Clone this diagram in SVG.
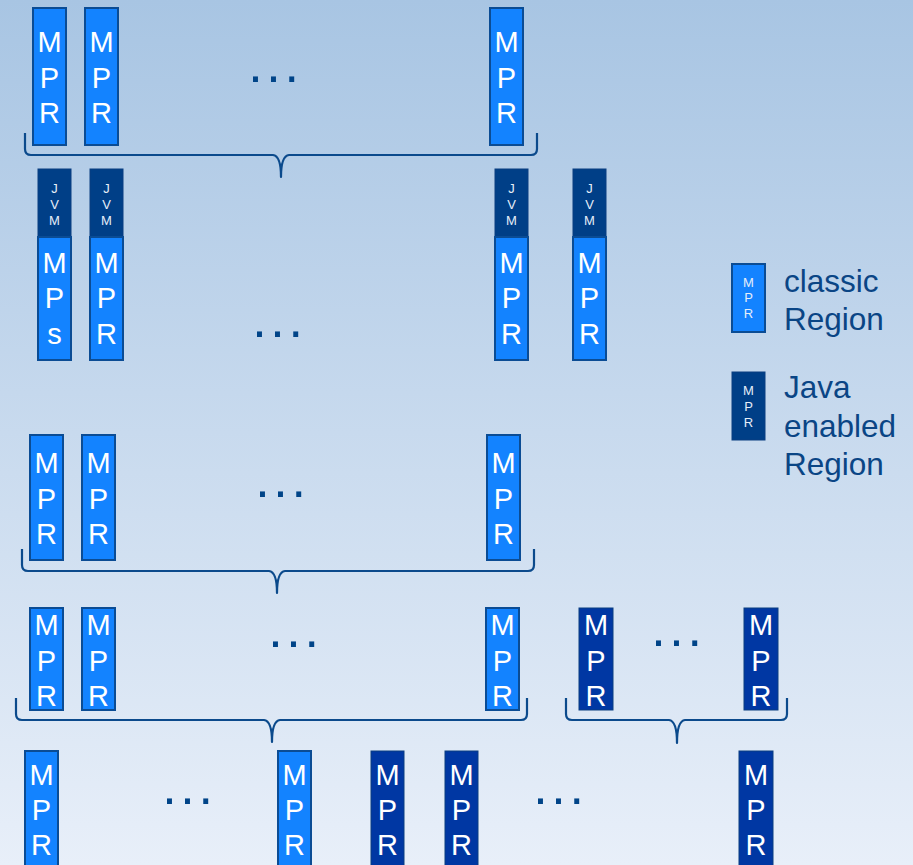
<svg xmlns="http://www.w3.org/2000/svg" width="913" height="865" viewBox="0 0 913 865">
  <defs>
    <linearGradient id="bg" x1="0" y1="0" x2="0" y2="1">
      <stop offset="0" stop-color="#a8c5e3"/>
      <stop offset="1" stop-color="#e8eff9"/>
    </linearGradient>
    <style>
      .classic { fill: #1383ff; stroke: #0b4c94; stroke-width: 2; }
      .java { fill: #0037a3; stroke: #0b3f80; stroke-width: 1; }
      .jvm { fill: #003f87; stroke: #0b3f80; stroke-width: 1; }
      .lbl { font-family: "Liberation Sans", Arial, sans-serif; font-size: 29px; fill: #ffffff; text-anchor: middle; }
      .small { font-family: "Liberation Sans", Arial, sans-serif; font-size: 13px; fill: #e6eef8; text-anchor: middle; }
      .dots { font-family: "Liberation Sans", Arial, sans-serif; font-size: 52px; fill: #004488; letter-spacing: 3.6px; }
      .brace { fill: none; stroke: #0b4a8c; stroke-width: 2.2; stroke-linejoin: round; }
      .legend { font-family: "Liberation Sans", Arial, sans-serif; font-size: 31.5px; fill: #0a4585; }
    </style>
  </defs>

  <rect x="0" y="0" width="913" height="865" fill="url(#bg)"/>

  <!-- Row 1 -->
  <g id="r1-a"><rect class="classic" x="33" y="8" width="33" height="137"/>
    <text class="lbl" x="49.5" y="52">M</text><text class="lbl" x="49.5" y="88">P</text><text class="lbl" x="49.5" y="123">R</text></g>
  <g id="r1-b"><rect class="classic" x="85" y="8" width="33" height="137"/>
    <text class="lbl" x="101.5" y="52">M</text><text class="lbl" x="101.5" y="88">P</text><text class="lbl" x="101.5" y="123">R</text></g>
  <g id="r1-c"><rect class="classic" x="490" y="8" width="33" height="137"/>
    <text class="lbl" x="506.5" y="52">M</text><text class="lbl" x="506.5" y="88">P</text><text class="lbl" x="506.5" y="123">R</text></g>
  <text class="dots" x="248.3" y="82">...</text>

  <!-- Row 2 -->
  <g id="r2-a"><rect class="jvm" x="38" y="169" width="33" height="68"/>
    <text class="small" x="54.5" y="193">J</text><text class="small" x="54.5" y="209">V</text><text class="small" x="54.5" y="225">M</text>
    <rect class="classic" x="38" y="237" width="33" height="123"/>
    <text class="lbl" x="54.5" y="273">M</text><text class="lbl" x="54.5" y="308">P</text><text class="lbl" x="54.5" y="344">s</text></g>
  <g id="r2-b"><rect class="jvm" x="90" y="169" width="33" height="68"/>
    <text class="small" x="106.5" y="193">J</text><text class="small" x="106.5" y="209">V</text><text class="small" x="106.5" y="225">M</text>
    <rect class="classic" x="90" y="237" width="33" height="123"/>
    <text class="lbl" x="106.5" y="273">M</text><text class="lbl" x="106.5" y="308">P</text><text class="lbl" x="106.5" y="344">R</text></g>
  <g id="r2-c"><rect class="jvm" x="495" y="169" width="33" height="68"/>
    <text class="small" x="511.5" y="193">J</text><text class="small" x="511.5" y="209">V</text><text class="small" x="511.5" y="225">M</text>
    <rect class="classic" x="495" y="237" width="33" height="123"/>
    <text class="lbl" x="511.5" y="273">M</text><text class="lbl" x="511.5" y="308">P</text><text class="lbl" x="511.5" y="344">R</text></g>
  <g id="r2-d"><rect class="jvm" x="573" y="169" width="33" height="68"/>
    <text class="small" x="589.5" y="193">J</text><text class="small" x="589.5" y="209">V</text><text class="small" x="589.5" y="225">M</text>
    <rect class="classic" x="573" y="237" width="33" height="123"/>
    <text class="lbl" x="589.5" y="273">M</text><text class="lbl" x="589.5" y="308">P</text><text class="lbl" x="589.5" y="344">R</text></g>
  <text class="dots" x="252.3" y="337">...</text>

  <!-- Legend -->
  <g id="legend-classic"><rect class="classic" x="732" y="264" width="33" height="68"/>
    <text class="small" x="748.5" y="287">M</text><text class="small" x="748.5" y="302">P</text><text class="small" x="748.5" y="318">R</text>
    <text class="legend" x="784" y="292">classic</text><text class="legend" x="784" y="330">Region</text></g>
  <g id="legend-java"><rect class="jvm" x="732" y="372" width="33" height="68"/>
    <text class="small" x="748.5" y="395">M</text><text class="small" x="748.5" y="411">P</text><text class="small" x="748.5" y="427">R</text>
    <text class="legend" x="784" y="398">Java</text><text class="legend" x="784" y="437">enabled</text><text class="legend" x="784" y="475">Region</text></g>

  <!-- Row 3 -->
  <g id="r3-a"><rect class="classic" x="30" y="435" width="33" height="125"/>
    <text class="lbl" x="46.5" y="473">M</text><text class="lbl" x="46.5" y="509">P</text><text class="lbl" x="46.5" y="544">R</text></g>
  <g id="r3-b"><rect class="classic" x="82" y="435" width="33" height="125"/>
    <text class="lbl" x="98.5" y="473">M</text><text class="lbl" x="98.5" y="509">P</text><text class="lbl" x="98.5" y="544">R</text></g>
  <g id="r3-c"><rect class="classic" x="487" y="435" width="33" height="125"/>
    <text class="lbl" x="503.5" y="473">M</text><text class="lbl" x="503.5" y="509">P</text><text class="lbl" x="503.5" y="544">R</text></g>
  <text class="dots" x="255.3" y="497">...</text>

  <!-- Row 4 -->
  <g id="r4-a"><rect class="classic" x="30" y="608" width="33" height="102"/>
    <text class="lbl" x="46.5" y="635">M</text><text class="lbl" x="46.5" y="671">P</text><text class="lbl" x="46.5" y="706">R</text></g>
  <g id="r4-b"><rect class="classic" x="82" y="608" width="33" height="102"/>
    <text class="lbl" x="98.5" y="635">M</text><text class="lbl" x="98.5" y="671">P</text><text class="lbl" x="98.5" y="706">R</text></g>
  <g id="r4-c"><rect class="classic" x="486" y="608" width="33" height="102"/>
    <text class="lbl" x="502.5" y="635">M</text><text class="lbl" x="502.5" y="671">P</text><text class="lbl" x="502.5" y="706">R</text></g>
  <g id="r4-d"><rect class="java" x="579" y="608" width="34" height="102"/>
    <text class="lbl" x="596" y="635">M</text><text class="lbl" x="596" y="671">P</text><text class="lbl" x="596" y="706">R</text></g>
  <g id="r4-e"><rect class="java" x="744" y="608" width="34" height="102"/>
    <text class="lbl" x="761" y="635">M</text><text class="lbl" x="761" y="671">P</text><text class="lbl" x="761" y="706">R</text></g>
  <text class="dots" x="268.3" y="647">...</text>
  <text class="dots" x="651.3" y="646">...</text>

  <!-- Row 5 -->
  <g id="r5-a"><rect class="classic" x="25" y="751" width="33" height="125"/>
    <text class="lbl" x="41.5" y="785">M</text><text class="lbl" x="41.5" y="820">P</text><text class="lbl" x="41.5" y="855">R</text></g>
  <g id="r5-b"><rect class="classic" x="278" y="751" width="33" height="125"/>
    <text class="lbl" x="294.5" y="785">M</text><text class="lbl" x="294.5" y="820">P</text><text class="lbl" x="294.5" y="855">R</text></g>
  <g id="r5-c"><rect class="java" x="371" y="751" width="33" height="125"/>
    <text class="lbl" x="387.5" y="785">M</text><text class="lbl" x="387.5" y="820">P</text><text class="lbl" x="387.5" y="855">R</text></g>
  <g id="r5-d"><rect class="java" x="445" y="751" width="33" height="125"/>
    <text class="lbl" x="461.5" y="785">M</text><text class="lbl" x="461.5" y="820">P</text><text class="lbl" x="461.5" y="855">R</text></g>
  <g id="r5-e"><rect class="java" x="739" y="751" width="34" height="125"/>
    <text class="lbl" x="756" y="785">M</text><text class="lbl" x="756" y="820">P</text><text class="lbl" x="756" y="855">R</text></g>
  <text class="dots" x="162.3" y="804">...</text>
  <text class="dots" x="533.3" y="804">...</text>

  <!-- Braces -->
  <g id="connectors">
    <path class="brace" d="M25,133 L25,149 Q25,155 31,155 L273,155 Q281,156 281,177 Q281,156 289,155 L531,155 Q537,155 537,149 L537,133"/>
    <path class="brace" d="M22,549 L22,565 Q22,571 28,571 L269,571 Q277,572 277,593 Q277,572 285,571 L528,571 Q534,571 534,565 L534,549"/>
    <path class="brace" d="M16,698 L16,714 Q16,720 22,720 L264,720 Q272,721 272,742 Q272,721 280,720 L521,720 Q527,720 527,714 L527,698"/>
    <path class="brace" d="M566,698 L566,714 Q566,720 572,720 L669,720 Q677,721 677,743 Q677,721 685,720 L781,720 Q787,720 787,714 L787,698"/>
  </g>
</svg>
